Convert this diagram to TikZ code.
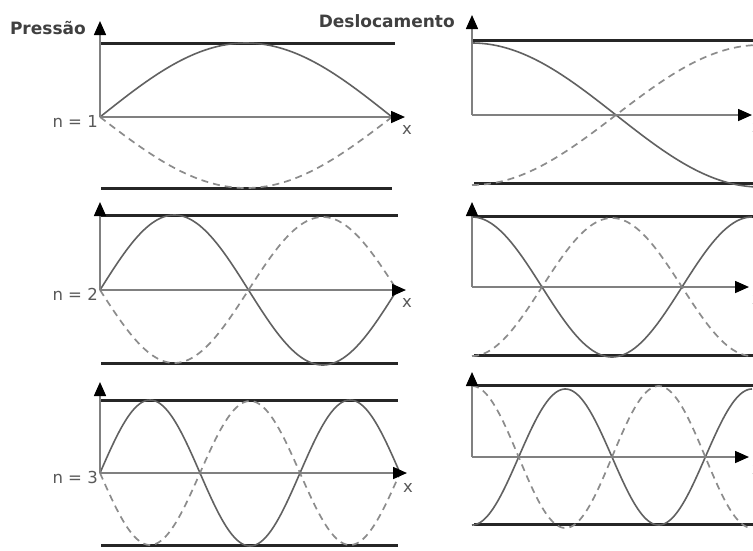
\documentclass[tikz,border=0pt]{standalone}
\usepackage{fontspec}
\newfontfamily\labfont{DejaVu Sans}
\usetikzlibrary{arrows.meta}
\tikzset{
  thickline/.style={line width=3pt, draw=black!85},
  axisline/.style={line width=1.6pt, draw=black!50, -{Triangle[length=14pt,width=12pt,color=black]}},
  solidc/.style={line width=1.6pt, draw=black!62},
  dashc/.style={line width=1.7pt, draw=black!45, dash pattern=on 7pt off 5pt},
  title/.style={inner sep=0pt, font=\labfont\bfseries\fontsize{17}{19}\selectfont, text=black!75},
  nlab/.style={inner sep=0pt, font=\labfont\fontsize{16.5}{19}\selectfont, text=black!65},
  xlab/.style={inner sep=0pt, font=\labfont\fontsize{16.5}{19}\selectfont, text=black!65}
}
\begin{document}
\begin{tikzpicture}[x=1pt,y=-1pt]
\useasboundingbox[fill=white] (0,0) rectangle (753,550);

% ---------------- titles ----------------
\node[title, anchor=base east] (tP) at (86,34) {Pressão};
\node[title, anchor=base east] (tD) at (455,27) {Deslocamento};

% ================= LEFT COLUMN (pressure) =================
% panel 1
\coordinate (L1o) at (100,117);
\draw[thickline] (101,43) -- (395,43);
\draw[thickline] (101,188) -- (392,188);
\draw[solidc] plot[domain=0:292, samples=120] ({100+\x}, {117-74*sin(180*(\x/292))});
\draw[dashc] plot[domain=0:292, samples=120] ({100+\x}, {117+71*sin(180*(\x/292))});
\draw[axisline] (L1o) -- (405,117);
\draw[axisline] (L1o) -- (100,21);
\node[nlab, anchor=base east] (n1) at (98,127) {n = 1};
\node[xlab] (x1) at (407,130) {x};

% panel 2
\coordinate (L2o) at (100,290);
\draw[thickline] (101,215) -- (398,215);
\draw[thickline] (101,363) -- (398,363);
\draw[solidc] plot[domain=0:297, samples=150] ({100+\x}, {290-75*sin(360*(\x/297))});
\draw[dashc] plot[domain=0:297, samples=150] ({100+\x}, {290+73*sin(360*(\x/297))});
\draw[axisline] (L2o) -- (406,290);
\draw[axisline] (L2o) -- (100,202);
\node[nlab, anchor=base east] (n2) at (98,300) {n = 2};
\node[xlab] (x2) at (407,303) {x};

% panel 3
\coordinate (L3o) at (100,473);
\draw[thickline] (101,400) -- (398,400);
\draw[thickline] (101,545) -- (398,545);
\draw[solidc] plot[domain=0:300, samples=180] ({100+\x}, {473-73*sin(540*(\x/300))});
\draw[dashc] plot[domain=0:300, samples=180] ({100+\x}, {473+72*sin(540*(\x/300))});
\draw[axisline] (L3o) -- (407,473);
\draw[axisline] (L3o) -- (100,382);
\node[nlab, anchor=base east] (n3) at (98,483) {n = 3};
\node[xlab] (x3) at (408,488) {x};

% ================= RIGHT COLUMN (displacement) =================
% panel 1
\coordinate (R1o) at (472,115);
\draw[thickline] (472,40) -- (760,40);
\draw[thickline] (474,183) -- (760,183);
\draw[solidc] plot[domain=0:288, samples=120] ({472+\x}, {115-72*cos(180*(\x/288))});
\draw[dashc] plot[domain=0:288, samples=120] ({472+\x}, {115+70*cos(180*(\x/288))});
\draw[axisline] (R1o) -- (752,115);
\draw[axisline] (R1o) -- (472,15);
\node[xlab] (x4) at (757,128) {x};

% panel 2
\coordinate (R2o) at (472,287);
\draw[thickline] (472,216) -- (760,216);
\draw[thickline] (474,355) -- (760,355);
\draw[solidc] plot[domain=0:280, samples=150] ({472+\x}, {287-70*cos(360*(\x/280))});
\draw[dashc] plot[domain=0:280, samples=150] ({472+\x}, {287+69*cos(360*(\x/280))});
\draw[axisline] (R2o) -- (749,287);
\draw[axisline] (R2o) -- (472,202);
\node[xlab] (x5) at (757,300) {x};

% panel 3
\coordinate (R3o) at (472,457);
\draw[thickline] (472,385) -- (760,385);
\draw[thickline] (474,524) -- (760,524);
\draw[solidc] plot[domain=0:280, samples=180] ({472+\x}, {457+68*cos(540*(\x/280))});
\draw[dashc] plot[domain=0:280, samples=180] ({472+\x}, {457-71*cos(540*(\x/280))});
\draw[axisline] (R3o) -- (749,457);
\draw[axisline] (R3o) -- (472,372);
\node[xlab] (x6) at (757,470) {x};
\end{tikzpicture}
\end{document}
